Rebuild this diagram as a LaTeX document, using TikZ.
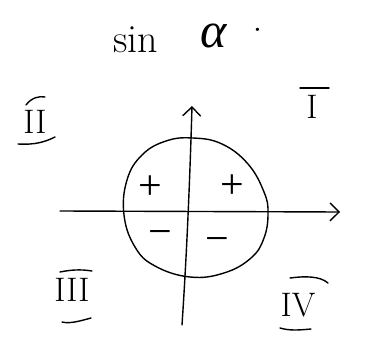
\documentclass[tikz,border=0pt]{standalone}
\usepackage{fontspec}
\newfontfamily\lsfont{Liberation Serif}
\usetikzlibrary{arrows.meta}
\begin{document}
\begin{tikzpicture}[x=1pt,y=1pt,
  ink/.style={line width=1.4pt,line cap=round,line join=round},
  big/.style={font=\fontsize{40}{46}\selectfont,inner sep=0pt},
  mid/.style={font=\fontsize{34}{40}\selectfont,inner sep=0pt},
  sign/.style={font=\fontsize{42}{48}\selectfont\lsfont,inner sep=0pt},
  axarrow/.style={ink,-{Straight Barb[length=9pt,width=18pt,line width=1.4pt]}}]
\useasboundingbox (0,0) rectangle (366,-339);
% title
\node[big] (sin) at (136,-40) {sin};
\node[big,font=\fontsize{50}{56}\selectfont\lsfont\itshape] (alpha) at (214,-36) {α};
\node[big] (dot) at (258,-36) {·};
% axes
\coordinate (yb) at (182,-325);
\coordinate (yt) at (192,-106);
\coordinate (xl) at (60,-211);
\coordinate (xr) at (340,-212);
\draw[axarrow] (yb) .. controls (185,-280) and (189,-210) .. (yt);
\draw[axarrow] (xl) -- (xr);
% circle
\draw[ink] plot[smooth cycle,tension=0.7] coordinates {
  (193,-138) (222,-144) (248,-164) (264,-192) (268,-213) (264,-238)
  (251,-258) (224,-273) (190,-277) (155,-266) (135,-247) (124,-215)
  (127,-180) (142,-155) (166,-141)};
% signs
\node[sign] (p1) at (150,-188) {+};
\node[sign] (p2) at (232,-187) {+};
\node[sign] (m1) at (160,-238) {−};
\node[sign] (m2) at (217,-245) {−};
% quadrant labels
\node[mid] (q2) at (35,-122) {II};
\draw[ink] (26,-105) .. controls (32,-97) and (40,-96) .. (45,-97);
\draw[ink] (18,-144) .. controls (35,-145) and (45,-142) .. (55,-137);
\node[mid] (q1) at (312,-107) {I};
\draw[ink] (300,-88) -- (329,-88);
\node[mid] (q3) at (72,-290) {III};
\draw[ink] (60,-272) .. controls (70,-270) and (80,-269) .. (92,-271);
\draw[ink] (62,-322) .. controls (70,-324) and (80,-321) .. (91,-318);
\node[mid] (q4) at (298,-305) {IV};
\draw[ink] (290,-278) .. controls (305,-276) and (320,-276) .. (328,-283);
\draw[ink] (280,-328) .. controls (290,-331) and (300,-330) .. (311,-329);
\end{tikzpicture}
\end{document}
